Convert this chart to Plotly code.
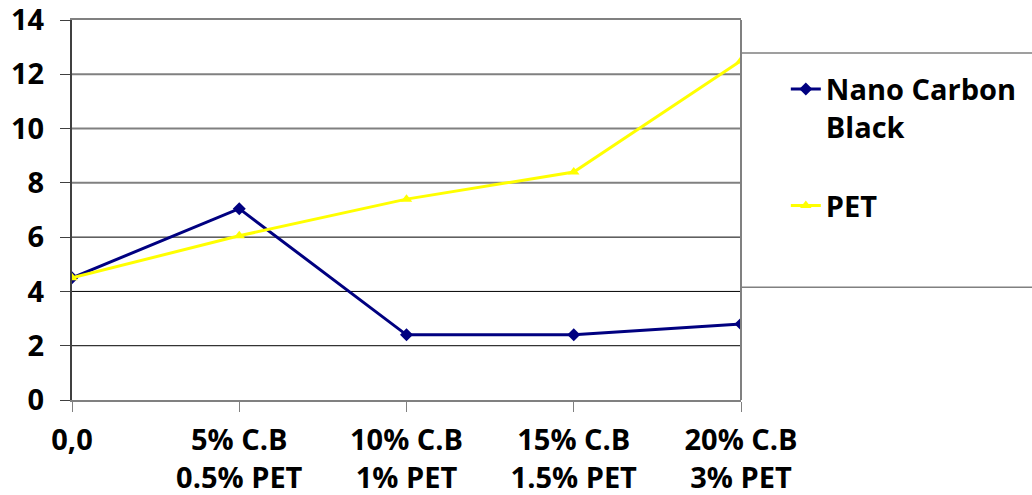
import plotly.graph_objects as go

categories = ["0,0", "5% C.B<br>0.5% PET", "10% C.B<br>1% PET", "15% C.B<br>1.5% PET", "20% C.B<br>3% PET"]
nano_carbon_black = [4.5, 7.05, 2.4, 2.4, 2.8]
pet = [4.5, 6.05, 7.4, 8.4, 12.5]
y_ticks = [0, 2, 4, 6, 8, 10, 12, 14]

FONT = "Open Sans"
FS = 29

fig = go.Figure()
fig.add_trace(go.Scatter(
    x=categories, y=nano_carbon_black, name="Nano Carbon<br>Black",
    legendgroup="g1",
    mode="lines+markers",
    line=dict(color="#000080", width=3),
    marker=dict(symbol="diamond", size=10, color="#000080"),
))
fig.add_trace(go.Scatter(
    x=categories, y=pet, name="PET",
    legendgroup="g2",
    mode="lines+markers",
    line=dict(color="#FFFF00", width=3),
    marker=dict(symbol="triangle-up", size=10, color="#FFFF00"),
))

shapes = []
for v in y_ticks[1:-1]:
    shapes.append(dict(type="line", xref="paper", yref="y", x0=0, x1=1, y0=v, y1=v,
                       line=dict(color="#808080" if v >= 8 else "#000000", width=2 if v >= 8 else 1),
                       layer="below"))
# right plot border
shapes.append(dict(type="line", xref="paper", yref="paper", x0=1, x1=1, y0=0, y1=1,
                   line=dict(color="#808080", width=2)))
# legend box (top and bottom edges)
shapes.append(dict(type="rect", xref="paper", yref="paper", x0=1, x1=1.5, y0=0.297, y1=0.913,
                   line=dict(color="#808080", width=1.5), fillcolor="rgba(0,0,0,0)"))

fig.update_layout(
    width=1032, height=495,
    margin=dict(l=72, r=291, t=20, b=95, autoexpand=False),
    paper_bgcolor="white", plot_bgcolor="white",
    font=dict(family=FONT, size=FS, color="black", weight="bold"),
    shapes=shapes,
    showlegend=True,
    legend=dict(x=1.067, xanchor="left", y=0.885, yanchor="top",
                valign="top", tracegroupgap=38,
                font=dict(family=FONT, size=FS, color="black", weight="bold"),
                bgcolor="rgba(0,0,0,0)", itemwidth=30),
    xaxis=dict(type="category", range=[0, 4], showgrid=False, automargin=False,
               showline=True, linecolor="#808080", linewidth=2, mirror=True,
               ticks="outside", ticklen=10, tickcolor="#808080", tickwidth=1,
               tickfont=dict(family=FONT, size=FS, color="black", weight="bold"),
               ticklabelstandoff=3, ticklabeloverflow="allow"),
    yaxis=dict(range=[0, 14], tickvals=y_ticks, showgrid=False, automargin=False,
               showline=True, linecolor="#404040", linewidth=2,
               ticks="outside", ticklen=10, tickcolor="#404040", tickwidth=1,
               tickfont=dict(family=FONT, size=FS, color="black", weight="bold"),
               ticklabelstandoff=10, zeroline=False, ticklabeloverflow="allow"),
)

fig.write_html("out.html", config={"displayModeBar": False},
               post_script="document.body.style.margin='0';")
